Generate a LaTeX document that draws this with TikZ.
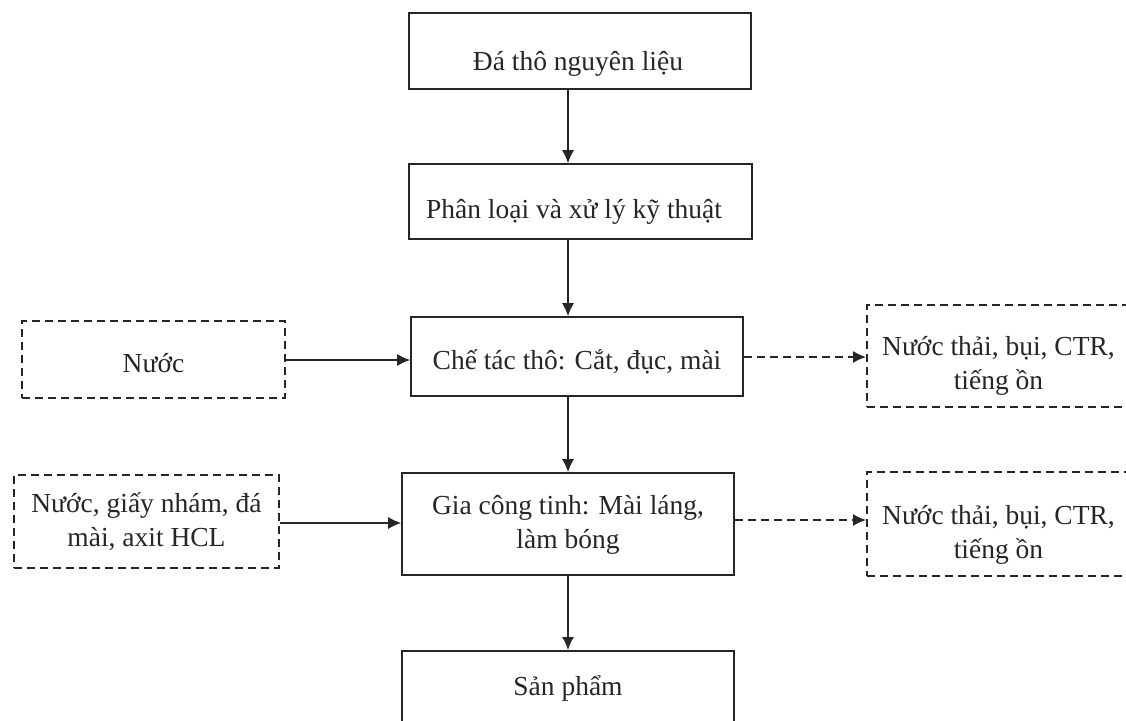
\documentclass[tikz,border=0pt]{standalone}
\usepackage{fontspec}
\setmainfont{Liberation Serif}
\usetikzlibrary{arrows.meta}
\begin{document}
\begin{tikzpicture}[x=1pt,y=-1pt,
  solidbox/.style={draw=black!85, line width=1.6pt, rectangle, inner sep=0pt},
  dashbox/.style={solidbox, dash pattern=on 8pt off 5pt},
  txt/.style={align=center, inner sep=0pt, font=\fontsize{27.5}{34}\selectfont, text=black!85},
  arr/.style={draw=black!85, line width=1.4pt, -{Latex[length=13pt,width=12pt]}},
  darr/.style={arr, dash pattern=on 8pt off 5pt}]
\clip (0,0) rectangle (1126,720);
\fill[white] (0,0) rectangle (1126,720);
\coordinate (spine) at (568,0);
% main process boxes
\node[solidbox, minimum width=342pt, minimum height=76pt] (b1) at (580,51) {};
\node[txt] (t1) at (578,64) {Đá thô nguyên liệu};
\node[solidbox, minimum width=343pt, minimum height=75pt] (b2) at (580.5,201.5) {};
\node[txt] (t2) at (574,212) {Phân loại và xử lý kỹ thuật};
\node[solidbox, minimum width=332pt, minimum height=79pt] (b3) at (577,356.5) {};
\node[txt] (t3) at (577,362) {Chế tác thô: Cắt, đục, mài};
\node[solidbox, minimum width=332pt, minimum height=102pt] (b4) at (568,524) {};
\node[txt] (t4) at (568,525) {Gia công tinh: Mài láng,\\làm bóng};
\node[solidbox, minimum width=332pt, minimum height=90pt, anchor=north] (b5) at (568,650) {};
\node[txt] (t5) at (568,688) {Sản phẩm};
% inputs
\node[dashbox, minimum width=263pt, minimum height=77pt] (l1) at (153.5,359.5) {};
\node[txt] (tl1) at (153.5,363) {Nước};
\node[dashbox, minimum width=265pt, minimum height=93pt] (l2) at (146.5,521.5) {};
\node[txt] (tl2) at (146.5,522) {Nước, giấy nhám, đá\\mài, axit HCL};
% outputs
\node[dashbox, minimum width=269pt, minimum height=102pt, anchor=west] (r1) at (866,356) {};
\node[txt] (tr1) at (998.5,366) {Nước thải, bụi, CTR,\\tiếng ồn};
\node[dashbox, minimum width=269pt, minimum height=104pt, anchor=west] (r2) at (866,524) {};
\node[txt] (tr2) at (998.5,535) {Nước thải, bụi, CTR,\\tiếng ồn};
% connectors
\draw[arr] (b1.south -| spine) -- (b2.north -| spine);
\draw[arr] (b2.south -| spine) -- (b3.north -| spine);
\draw[arr] (b3.south -| spine) -- (b4.north -| spine);
\draw[arr] (b4.south -| spine) -- (b5.north -| spine);
\draw[arr] (l1.east |- 0,360) -- (b3.west |- 0,360);
\draw[arr] (l2.east |- 0,523) -- (b4.west |- 0,523);
\draw[darr] (b3.east |- 0,357) -- (r1.west |- 0,357);
\draw[darr] (b4.east |- 0,520) -- (r2.west |- 0,520);
\end{tikzpicture}
\end{document}
